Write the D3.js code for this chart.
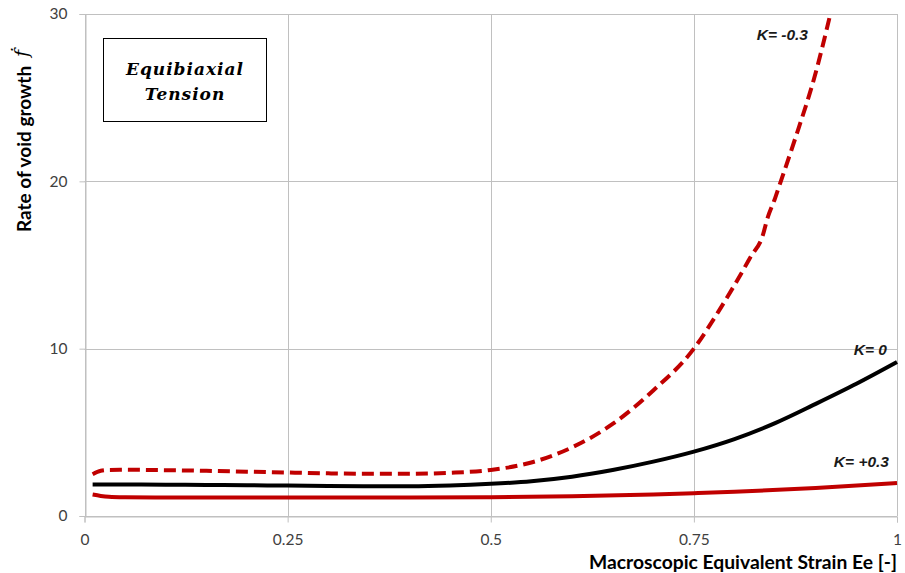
<!DOCTYPE html>
<html>
<head>
<meta charset="utf-8">
<script src="https://cdn.jsdelivr.net/npm/d3@7"></script>
<style>
  body { margin: 0; background: #fff; }
  svg { display: block; }
</style>
</head>
<body>
<svg id="chart" width="905" height="573"></svg>
<script>
// Strain values and void growth rates for each K
const xNeg = [0.01, 0.02, 0.03, 0.05, 0.1, 0.15, 0.2, 0.25, 0.3, 0.35, 0.4, 0.45, 0.5, 0.55, 0.6, 0.65, 0.7, 0.75, 0.78, 0.8, 0.82, 0.835, 0.84, 0.85, 0.857, 0.875, 0.9, 0.918];
const yNeg = [2.5, 2.7, 2.75, 2.76, 2.74, 2.7, 2.65, 2.6, 2.55, 2.52, 2.52, 2.58, 2.75, 3.2, 4.1, 5.5, 7.5, 10.0, 12.2, 13.8, 15.5, 16.8, 17.7, 19.0, 20.0, 22.6, 26.5, 30];

const xZero = [0.01, 0.05, 0.1, 0.15, 0.2, 0.25, 0.3, 0.35, 0.4, 0.45, 0.5, 0.55, 0.6, 0.65, 0.7, 0.75, 0.8, 0.85, 0.9, 0.95, 1.0];
const yZero = [1.88, 1.88, 1.87, 1.86, 1.84, 1.82, 1.8, 1.78, 1.78, 1.82, 1.92, 2.08, 2.35, 2.75, 3.25, 3.85, 4.6, 5.55, 6.7, 7.9, 9.2];

const xPos = [0.01, 0.02, 0.03, 0.05, 0.1, 0.2, 0.3, 0.4, 0.5, 0.6, 0.7, 0.75, 0.8, 0.9, 1.0];
const yPos = [1.28, 1.2, 1.15, 1.12, 1.1, 1.1, 1.1, 1.1, 1.12, 1.18, 1.28, 1.36, 1.45, 1.67, 1.97];

const xTicks = [0, 0.25, 0.5, 0.75, 1];
const xTickLabels = ["0", "0.25", "0.5", "0.75", "1"];
const yTicks = [0, 10, 20, 30];

const seriesLabels = ["K= -0.3", "K= 0", "K= +0.3"];
const xTitle = "Macroscopic Equivalent Strain Ee [-]";
const yTitle = "Rate of void growth";
const boxLines = ["Equibiaxial", "Tension"];

const svg = d3.select("#chart");
const plotLeft = 84.5, plotRight = 897, plotTop = 14, plotBottom = 516;

const x = d3.scaleLinear().domain([0, 1]).range([plotLeft, plotRight]);
const y = d3.scaleLinear().domain([0, 30]).range([plotBottom, plotTop]);

const gridColor = "#c0c0c0";
const labelColor = "#404040";

// gridlines
svg.append("g").selectAll("line").data(yTicks).join("line")
  .attr("x1", plotLeft).attr("x2", plotRight)
  .attr("y1", d => Math.round(y(d)) + 0.5).attr("y2", d => Math.round(y(d)) + 0.5)
  .attr("stroke", gridColor).attr("stroke-width", 1);
svg.append("g").selectAll("line").data(xTicks).join("line")
  .attr("x1", d => Math.round(x(d)) + 0.5).attr("x2", d => Math.round(x(d)) + 0.5)
  .attr("y1", plotTop).attr("y2", plotBottom)
  .attr("stroke", gridColor).attr("stroke-width", 1);

// axes
const xAxis = d3.axisBottom(x).tickValues(xTicks)
  .tickFormat((d, i) => xTickLabels[i]).tickSize(6).tickPadding(11);
const yAxis = d3.axisLeft(y).tickValues(yTicks).tickSize(6).tickPadding(12);

const gx = svg.append("g").attr("transform", `translate(0,${Math.round(plotBottom) + 0.5})`).call(xAxis);
const gy = svg.append("g").attr("transform", `translate(${Math.round(plotLeft) + 0.5},0)`).call(yAxis);
[gx, gy].forEach(g => {
  g.select(".domain").attr("stroke", gridColor);
  g.selectAll(".tick line").attr("stroke", gridColor);
  g.selectAll(".tick text")
    .attr("fill", labelColor)
    .style("font-family", "Lato, 'Open Sans', sans-serif")
    .style("font-size", "15.5px");
});

// curves
const line = d3.line().x(d => x(d[0])).y(d => y(d[1])).curve(d3.curveMonotoneX);
const series = [
  { xs: xNeg, ys: yNeg, color: "#c00000", dash: "12,6" },
  { xs: xZero, ys: yZero, color: "#000000", dash: null },
  { xs: xPos, ys: yPos, color: "#c00000", dash: null }
];
series.forEach(s => {
  const pts = s.xs.map((v, i) => [v, s.ys[i]]);
  svg.append("path")
    .attr("d", line(pts))
    .attr("fill", "none")
    .attr("stroke", s.color)
    .attr("stroke-width", 4)
    .attr("stroke-dasharray", s.dash)
    .attr("stroke-linejoin", "round");
});

// series labels
const labelFont = "'Liberation Sans', Arial, sans-serif";
const labelPos = [
  { x: 808, y: 40 },
  { x: 887, y: 355 },
  { x: 889, y: 467 }
];
seriesLabels.forEach((t, i) => {
  svg.append("text")
    .attr("x", labelPos[i].x).attr("y", labelPos[i].y)
    .attr("text-anchor", "end")
    .style("font-family", labelFont)
    .style("font-weight", "bold")
    .style("font-style", "italic")
    .style("font-size", "15.5px")
    .attr("fill", "#1a1a1a")
    .text(t);
});

// annotation box
svg.append("rect")
  .attr("x", 103.5).attr("y", 38.5).attr("width", 163).attr("height", 83)
  .attr("fill", "#fff").attr("stroke", "#000").attr("stroke-width", 1);
boxLines.forEach((t, i) => {
  svg.append("text")
    .attr("x", 185).attr("y", 75 + i * 25)
    .attr("text-anchor", "middle")
    .style("font-family", "'DejaVu Serif', 'Liberation Serif', serif")
    .style("font-weight", "bold")
    .style("font-style", "italic")
    .style("font-size", "17px")
    .style("letter-spacing", "1px")
    .attr("fill", "#000")
    .text(t);
});

// axis titles
svg.append("text")
  .attr("x", 897).attr("y", 569)
  .attr("text-anchor", "end")
  .style("font-family", "Lato, 'Open Sans', sans-serif")
  .style("font-weight", "bold")
  .style("font-size", "19.3px")
  .attr("fill", "#000")
  .text(xTitle);

const yt = svg.append("text")
  .attr("transform", "translate(31,232) rotate(-90)")
  .attr("text-anchor", "start")
  .style("font-family", "Lato, 'Open Sans', sans-serif")
  .style("font-weight", "bold")
  .style("font-size", "19px")
  .attr("fill", "#000");
yt.append("tspan").text(yTitle);
yt.append("tspan")
  .attr("dx", 9).attr("dy", -3)
  .style("font-family", "'DejaVu Serif', serif")
  .style("font-style", "italic")
  .style("font-weight", "normal")
  .style("font-size", "19px")
  .text("ḟ");
</script>
</body>
</html>
